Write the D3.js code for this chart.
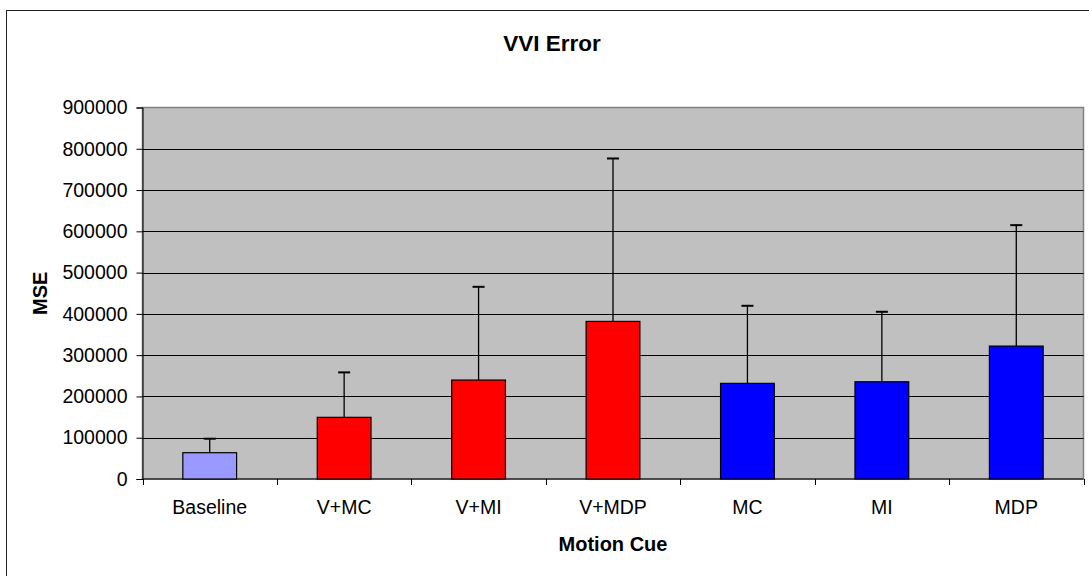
<html>
<head>
    <title>VVI Error</title>
    <style>
        body { margin: 0; background: #fff; font-family: "Liberation Sans", Arial, Helvetica, sans-serif; }
        svg text { fill: #000; }
    </style>
</head>
<body>
    <div id="chart-holder"></div>
    <script src="https://d3js.org/d3.v7.min.js"></script>
    <script>
    var width = 1089;
    var height = 576;

    // data
    var categories = ['Baseline', 'V+MC', 'V+MI', 'V+MDP', 'MC', 'MI', 'MDP'];
    var means = [63700, 149400, 239700, 381800, 231700, 235600, 322000];
    var errors = [33900, 108900, 225900, 394700, 187900, 169500, 293000];
    var groups = ['base', 'combined', 'combined', 'combined', 'motion', 'motion', 'motion'];
    var yTicks = [0, 100000, 200000, 300000, 400000, 500000, 600000, 700000, 800000, 900000];

    var data = categories.map(function(c, i) {
        return {cat: c, mean: means[i], err: errors[i], group: groups[i]};
    });

    // plot area
    var plot = {left: 142.5, right: 1083.5, top: 107.5, bottom: 479};

    var svg = d3.select('#chart-holder')
        .append('svg')
        .attr('width', width)
        .attr('height', height);

    // outer chart border (runs off the right / bottom edge)
    svg.append('rect')
        .attr('x', 6.5)
        .attr('y', 10.5)
        .attr('width', 1092)
        .attr('height', 580)
        .attr('fill', '#fff')
        .attr('stroke', '#222')
        .attr('stroke-width', 1);

    var x = d3.scaleBand()
        .domain(categories)
        .range([plot.left, plot.right])
        .padding(0);

    var y = d3.scaleLinear()
        .domain([0, 900000])
        .range([plot.bottom, plot.top]);

    var color = d3.scaleOrdinal()
        .domain(['base', 'combined', 'motion'])
        .range(['#9999FF', '#FF0000', '#0000FF']);

    // plot background
    svg.append('rect')
        .attr('x', plot.left)
        .attr('y', plot.top)
        .attr('width', plot.right - plot.left)
        .attr('height', plot.bottom - plot.top)
        .attr('fill', '#C0C0C0')
        .attr('stroke', '#808080')
        .attr('stroke-width', 1.5);

    // gridlines
    svg.append('g')
        .selectAll('line')
        .data(yTicks.filter(function(t) { return t > 0 && t < 900000; }))
        .enter()
        .append('line')
        .attr('x1', plot.left)
        .attr('x2', plot.right)
        .attr('y1', function(d) { return Math.round(y(d)) + 0.5; })
        .attr('y2', function(d) { return Math.round(y(d)) + 0.5; })
        .attr('stroke', '#000')
        .attr('stroke-width', 1);

    // y axis
    var yAxis = d3.axisLeft(y)
        .tickValues(yTicks)
        .tickSize(6)
        .tickPadding(9)
        .tickFormat(d3.format('d'));

    var yg = svg.append('g')
        .attr('transform', 'translate(' + plot.left + ',0)')
        .call(yAxis);
    yg.selectAll('text')
        .style('font-family', '"Liberation Sans", Arial, sans-serif')
        .style('font-size', '19.5px')
        .attr('fill', '#000');
    yg.selectAll('line, path').attr('stroke', '#000');

    // x axis, ticks at category boundaries
    var xg = svg.append('g')
        .attr('transform', 'translate(0,' + plot.bottom + ')');
    xg.append('line')
        .attr('x1', plot.left)
        .attr('x2', plot.right)
        .attr('stroke', '#000');
    var bounds = categories.map(function(c) { return x(c); }).concat([plot.right]);
    xg.selectAll('.xtick')
        .data(bounds)
        .enter()
        .append('line')
        .attr('class', 'xtick')
        .attr('x1', function(d) { return Math.round(d) + 0.5; })
        .attr('x2', function(d) { return Math.round(d) + 0.5; })
        .attr('y1', 0)
        .attr('y2', 6)
        .attr('stroke', '#000');
    xg.selectAll('.xlabel')
        .data(categories)
        .enter()
        .append('text')
        .attr('class', 'xlabel')
        .attr('x', function(d) { return x(d) + x.bandwidth() / 2; })
        .attr('y', 35)
        .attr('text-anchor', 'middle')
        .style('font-size', '19.5px')
        .text(function(d) { return d; });

    // bars
    var barW = x.bandwidth() / 2.5;
    svg.selectAll('.bar')
        .data(data)
        .enter()
        .append('rect')
        .attr('class', 'bar')
        .attr('x', function(d) { return x(d.cat) + (x.bandwidth() - barW) / 2; })
        .attr('y', function(d) { return y(d.mean); })
        .attr('width', barW)
        .attr('height', function(d) { return plot.bottom - y(d.mean); })
        .attr('fill', function(d) { return color(d.group); })
        .attr('stroke', '#000')
        .attr('stroke-width', 1.2);

    // error bars (plus only)
    var eg = svg.selectAll('.err')
        .data(data)
        .enter()
        .append('g')
        .attr('class', 'err')
        .attr('stroke', '#000')
        .attr('stroke-width', 1.3);
    eg.append('line')
        .attr('x1', function(d) { return x(d.cat) + x.bandwidth() / 2; })
        .attr('x2', function(d) { return x(d.cat) + x.bandwidth() / 2; })
        .attr('y1', function(d) { return y(d.mean); })
        .attr('y2', function(d) { return y(d.mean + d.err); });
    eg.append('line')
        .attr('x1', function(d) { return x(d.cat) + x.bandwidth() / 2 - 6; })
        .attr('x2', function(d) { return x(d.cat) + x.bandwidth() / 2 + 6; })
        .attr('y1', function(d) { return y(d.mean + d.err); })
        .attr('y2', function(d) { return y(d.mean + d.err); })
        .attr('stroke-width', 2);

    // title
    svg.append('text')
        .attr('x', 552)
        .attr('y', 50.5)
        .attr('text-anchor', 'middle')
        .style('font-size', '22.5px')
        .style('font-weight', 'bold')
        .text('VVI Error');

    // axis titles
    svg.append('text')
        .attr('x', (plot.left + plot.right) / 2)
        .attr('y', 551)
        .attr('text-anchor', 'middle')
        .style('font-size', '20px')
        .style('font-weight', 'bold')
        .text('Motion Cue');

    svg.append('text')
        .attr('transform', 'translate(46.5,' + (plot.top + plot.bottom) / 2 + ') rotate(-90)')
        .attr('text-anchor', 'middle')
        .style('font-size', '20px')
        .style('font-weight', 'bold')
        .text('MSE');
    </script>
</body>
</html>
